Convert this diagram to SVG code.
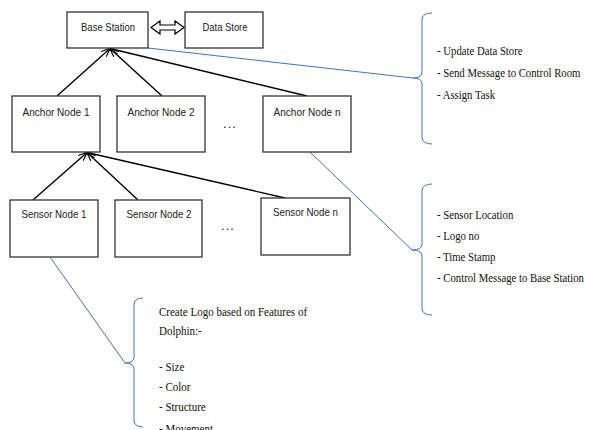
<svg xmlns="http://www.w3.org/2000/svg" width="589" height="430" viewBox="0 0 589 430">
<defs>
<marker id="arr" viewBox="0 0 10 10" refX="9.5" refY="5" markerWidth="9" markerHeight="9" markerUnits="userSpaceOnUse" orient="auto">
<path d="M0,1 L10,5 L0,9" fill="none" stroke="#000" stroke-width="1.3"/>
</marker>
<style>
.box{fill:#fff;stroke:#333;stroke-width:1.3}
.lbl{font-family:"Liberation Sans",Arial,sans-serif;font-size:11.5px;fill:#222;text-anchor:middle}
.conn{stroke:#000;stroke-width:1.4;fill:none}
.blue{stroke:#4472C4;stroke-width:1;fill:none}
.note{font-family:"Liberation Serif","Times New Roman",serif;font-size:12.5px;fill:#111}
.dots{font-family:"Liberation Sans",Arial,sans-serif;font-size:13px;fill:#222;text-anchor:middle}
</style>
</defs>
<rect width="589" height="430" fill="#fff"/>

<g id="connectors">
<line class="conn" x1="57" y1="96" x2="110" y2="48.5" marker-end="url(#arr)"/>
<line class="conn" x1="162" y1="96" x2="110" y2="48.5" marker-end="url(#arr)"/>
<line class="conn" x1="307" y1="96" x2="110" y2="48.5" marker-end="url(#arr)"/>
<line class="conn" x1="33" y1="200" x2="87" y2="152.5" marker-end="url(#arr)"/>
<line class="conn" x1="138" y1="200" x2="87" y2="152.5" marker-end="url(#arr)"/>
<line class="conn" x1="285" y1="198" x2="87" y2="152.5" marker-end="url(#arr)"/>
<path id="dbl" d="M151,27.5 L160,21 L160,25 L175,25 L175,21 L184,27.5 L175,34 L175,30 L160,30 L160,34 Z" fill="#fff" stroke="#000" stroke-width="1.2"/>
<line class="blue" x1="148" y1="48" x2="413" y2="78"/>
<line class="blue" x1="310" y1="152" x2="412" y2="250"/>
<line class="blue" x1="50" y1="257" x2="125" y2="363"/>
</g>

<g id="base-station">
<rect class="box" x="67" y="12" width="81" height="36"/>
<text class="lbl" x="108" y="31" textLength="54" lengthAdjust="spacingAndGlyphs">Base Station</text>
</g>
<g id="data-store">
<rect class="box" x="185" y="12" width="78" height="36"/>
<text class="lbl" x="225" y="31" textLength="45" lengthAdjust="spacingAndGlyphs">Data Store</text>
</g>

<g id="anchor-1">
<rect class="box" x="12" y="96" width="88" height="56"/>
<text class="lbl" x="56" y="116" textLength="67" lengthAdjust="spacingAndGlyphs">Anchor Node 1</text>
</g>
<g id="anchor-2">
<rect class="box" x="117" y="96" width="88" height="56"/>
<text class="lbl" x="161" y="116" textLength="67" lengthAdjust="spacingAndGlyphs">Anchor Node 2</text>
</g>
<text class="dots" x="230" y="128" letter-spacing="1">...</text>
<g id="anchor-n">
<rect class="box" x="263" y="96" width="88" height="56"/>
<text class="lbl" x="307" y="116" textLength="67" lengthAdjust="spacingAndGlyphs">Anchor Node n</text>
</g>

<g id="sensor-1">
<rect class="box" x="10" y="200" width="88" height="57"/>
<text class="lbl" x="54" y="218" textLength="65" lengthAdjust="spacingAndGlyphs">Sensor Node 1</text>
</g>
<g id="sensor-2">
<rect class="box" x="115" y="200" width="87" height="57"/>
<text class="lbl" x="159" y="218" textLength="65" lengthAdjust="spacingAndGlyphs">Sensor Node 2</text>
</g>
<text class="dots" x="228" y="230" letter-spacing="1">...</text>
<g id="sensor-n">
<rect class="box" x="261" y="198" width="89" height="57"/>
<text class="lbl" x="305.5" y="216" textLength="65" lengthAdjust="spacingAndGlyphs">Sensor Node n</text>
</g>

<g id="note-base">
<path class="blue" d="M432,13 Q422,13 422,20 L422,72 Q422,78 413,78 Q422,78 422,84 L422,137 Q422,144 432,144"/>
<g transform="translate(437,0) scale(0.86,1)">
<text class="note" x="0" y="55">- Update Data Store</text>
<text class="note" x="0" y="77">- Send Message to Control Room</text>
<text class="note" x="0" y="99">- Assign Task</text>
</g>
</g>

<g id="note-anchor">
<path class="blue" d="M432,184 Q422,184 422,191 L422,244 Q422,250 412,250 Q422,250 422,256 L422,308 Q422,315 432,315"/>
<g transform="translate(437,0) scale(0.86,1)">
<text class="note" x="0" y="219">- Sensor Location</text>
<text class="note" x="0" y="240">- Logo no</text>
<text class="note" x="0" y="261">- Time Stamp</text>
<text class="note" x="0" y="282">- Control Message to Base Station</text>
</g>
</g>

<g id="note-sensor">
<path class="blue" d="M143,298 Q134,298 134,305 L134,357 Q134,363 125,363 Q134,363 134,369 L134,420 Q134,427 143,427"/>
<g transform="translate(159,0) scale(0.88,1)">
<text class="note" x="0" y="316">Create Logo based on Features of</text>
<text class="note" x="0" y="335">Dolphin:-</text>
<text class="note" x="0" y="371">- Size</text>
<text class="note" x="0" y="391">- Color</text>
<text class="note" x="0" y="411">- Structure</text>
<text class="note" x="0" y="433">- Movement</text>
</g>
</g>
</svg>
